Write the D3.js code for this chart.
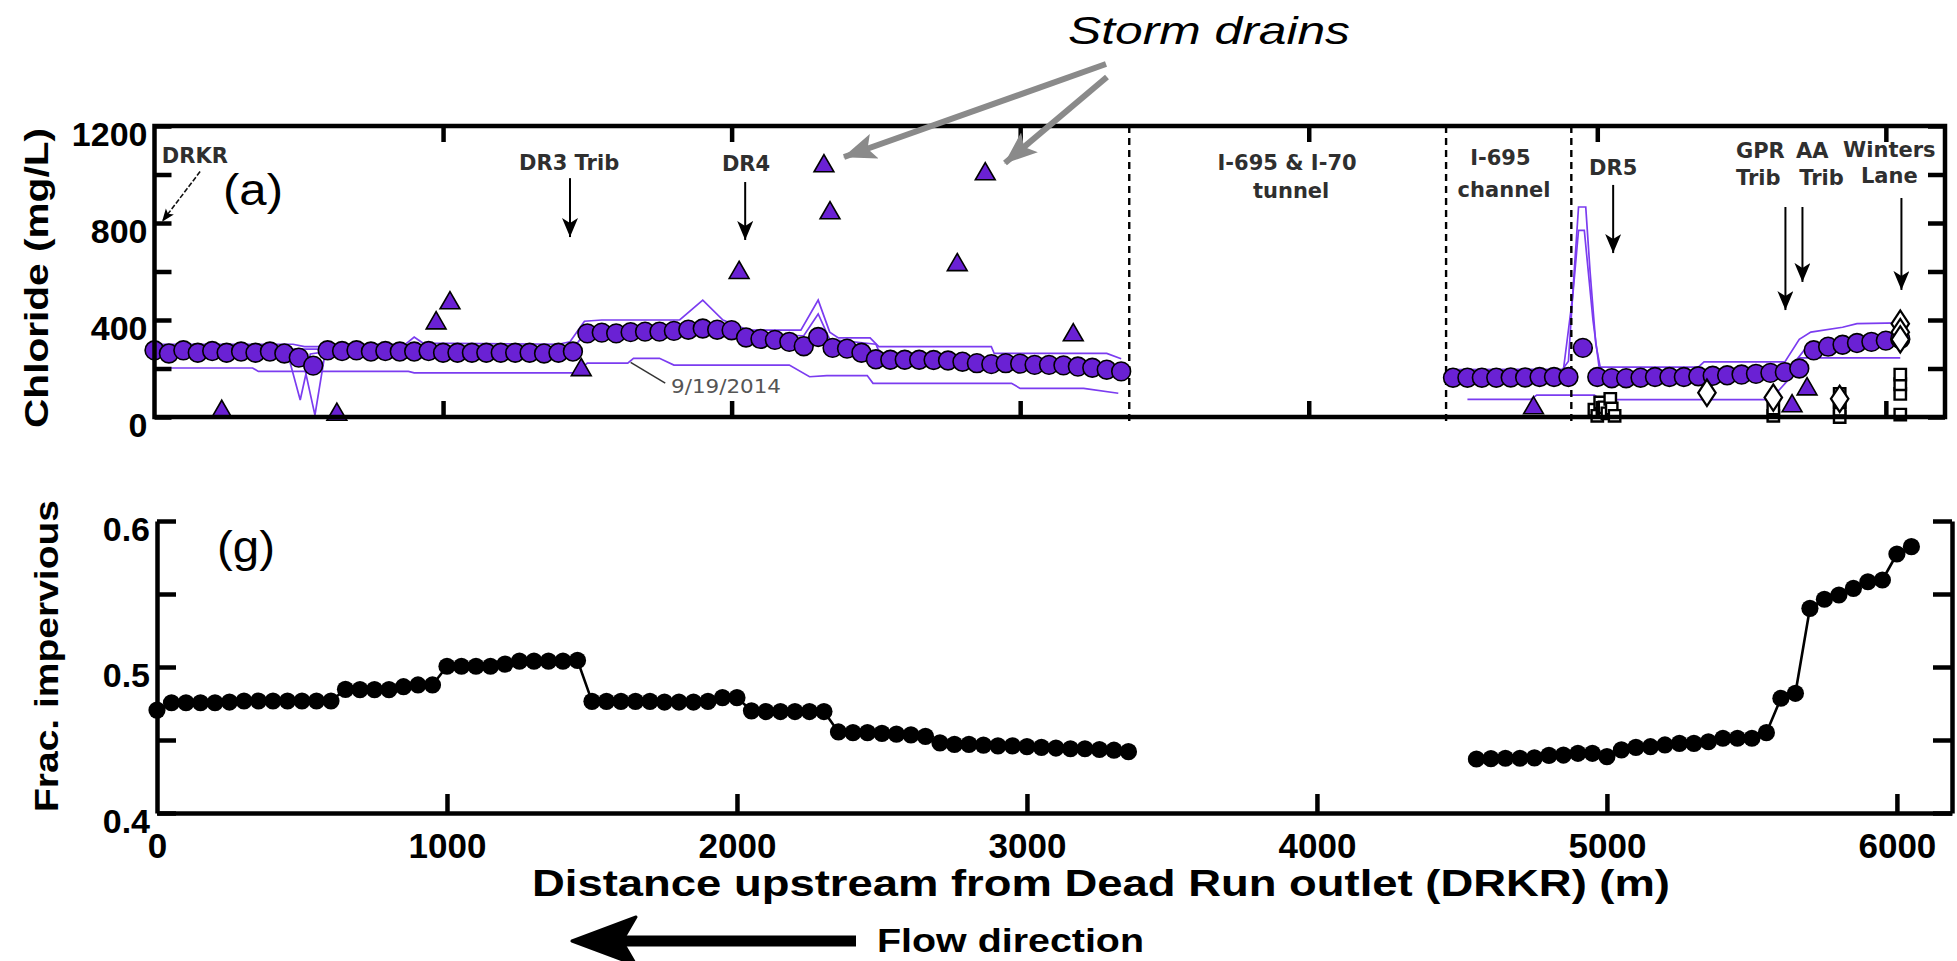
<!DOCTYPE html>
<html><head><meta charset="utf-8">
<script src="https://cdn.jsdelivr.net/npm/d3@7"></script>
<style>
body{margin:0;background:#fff;}
svg{display:block;}
</style></head>
<body><svg id="chart" width="1957" height="961"></svg>
<script>
// ---------------- DATA ----------------
const distLeft = [0,50,100,150,200,250,300,350,400,450,500,550,600,650,700,750,800,850,900,950,
  1000,1050,1100,1150,1200,1250,1300,1350,1400,1450,1500,1550,1600,1650,1700,1750,1800,1850,1900,1950,
  2000,2050,2100,2150,2200,2250,2300,2350,2400,2450,2500,2550,2600,2650,2700,2750,2800,2850,2900,2950,
  3000,3050,3100,3150,3200,3250,3300,3350];
const chlorideLeft = [275,262,275,265,272,265,270,265,270,262,245,212,275,272,275,270,272,270,270,272,
  265,265,265,265,265,265,265,262,265,270,345,348,345,350,352,352,355,360,365,360,
  358,328,322,318,310,292,330,285,282,265,238,236,236,236,235,233,228,222,218,222,
  220,215,215,213,208,203,195,188];
const distRightCl = [4500,4550,4600,4650,4700,4750,4800,4850,4900,4950,5000,5050,5100,5150,5200,5250,
  5300,5350,5400,5450,5500,5550,5600,5650,5700,5750,5800,5850,5900,5950,6000,6050];
const chlorideRight = [162,162,162,162,163,163,165,165,165,285,165,160,160,162,165,165,
  165,168,170,172,175,178,182,185,200,275,290,298,305,310,315,322];

const imperviousLeft = [0.4705,0.4755,0.4755,0.4755,0.4755,0.4760,0.4767,0.4767,0.4767,0.4767,0.4767,0.4767,0.4767,0.4847,0.4845,0.4845,0.4845,0.4865,0.4877,0.4877,
  0.5005,0.5005,0.5005,0.5005,0.5020,0.5040,0.5040,0.5040,0.5040,0.5045,0.4765,0.4765,0.4765,0.4765,0.4765,0.4760,0.4760,0.4760,0.4765,0.4790,
  0.4790,0.4700,0.4695,0.4695,0.4695,0.4695,0.4695,0.4555,0.4550,0.4550,0.4545,0.4540,0.4535,0.4525,0.4480,0.4470,0.4470,0.4465,0.4460,0.4460,
  0.4455,0.4450,0.4445,0.4440,0.4440,0.4435,0.4430,0.4420];
const distRightImp = [4550,4600,4650,4700,4750,4800,4850,4900,4950,5000,5050,5100,5150,5200,5250,5300,
  5350,5400,5450,5500,5550,5600,5650,5700,5750,5800,5850,5900,5950,6000,6050];
const imperviousRight = [0.4370,0.4372,0.4375,0.4375,0.4378,0.4395,0.4397,0.4409,0.4409,0.4386,0.4432,0.4450,0.4454,0.4466,0.4477,0.4477,
  0.4488,0.4512,0.4512,0.4512,0.4550,0.4786,0.4820,0.5402,0.5464,0.5493,0.5539,0.5584,0.5596,0.5774,0.5824];

// storm drain samples [distance, chloride]
const stormDrains = [[233,22],[632,10],[976,387],[1024,470],[1479,194],[2026,595],[2320,1035],[2341,841],
  [2782,627],[2879,1002],[3184,338],[4779,37],[5675,45],[5727,115]];
// other sampling dates (thin lines) [distance, chloride]
const dateA = [[0,300],[480,300],[520,290],[580,290],[620,300],[870,300],[900,330],[930,305],[1400,300],[1440,310],[1490,395],[1550,400],[1820,400],[1900,482],[1970,400],[2000,385],[2060,358],[2240,358],[2300,482],[2340,350],[2370,326],[2480,326],[2510,290],[2900,290],[2910,262],[3300,262],[3350,240]];
const dateB = [[0,280],[1450,280],[1500,360],[2000,362],[2040,340],[2250,335],[2300,425],[2340,320],[2500,300],[2520,245],[3350,200]];
const dateC = [[0,268],[460,268],[505,70],[540,260],[600,270],[1450,268]];
const dateD = [[0,262],[510,258],[556,8],[590,255],[1450,262]];
const date0919 = [[0,202],[340,202],[360,188],[880,188],[900,182],[1460,182],[1500,222],[1640,222],[1660,242],[1750,242],[1800,214],[2200,214],[2270,166],[2330,171],[2470,171],[2490,139],[2970,139],[3000,118],[3220,118],[3340,98]];
const dateR1 = [[4500,195],[4880,197],[4900,230],[4920,600],[4935,866],[4960,866],[4975,600],[4995,300],[5010,206],[5350,206],[5370,227],[5650,227],[5700,320],[5740,350],[5850,370],[5900,385],[6050,388]];
const dateR2 = [[4500,168],[4880,170],[4915,500],[4935,770],[4955,770],[4985,400],[5010,172],[5600,178],[5660,190],[5720,280],[5800,298],[6050,325]];
const dateR3 = [[4550,73],[4770,73],[4790,90],[4990,90],[5010,72],[5600,72],[5660,150],[5700,244],[6050,244]];
const thinLines = [dateA, dateB, dateC, dateD, date0919, dateR1, dateR2, dateR3];
// tributary samples (open symbols)
const openDiamonds = [[5380,100],[5610,80],[6050,385],[6050,350],[6050,320],[5840,75]];
const openSquares = [[4990,30],[5000,5],[5010,60],[5025,40],[5035,15],[5045,75],[5050,35],[5060,5],
  [5610,5],[5610,35],[5840,0],[5840,30],[5840,60],[5840,95],[6050,10],[6050,95],[6050,135],[6050,175]];

const xTicks = [0,1000,2000,3000,4000,5000,6000];
const xTickLabels = ["0","1000","2000","3000","4000","5000","6000"];
const clTicks = [0,200,400,600,800,1000,1200];
const clLabelled = [0,400,800,1200];
const impTicks = [0.4,0.45,0.5,0.55,0.6];
const impLabelled = [0.4,0.5,0.6];
const dividers = [3378,4476,4910];

// ---------------- LAYOUT ----------------
const svg = d3.select("#chart");
const FONT = "'Liberation Sans', Arial, Helvetica, sans-serif";
const LFONT = "'DejaVu Sans', Verdana, sans-serif";
const PURPLE = "#6a21d4", LPURPLE = "#7b3cf0";

const xTop = d3.scaleLinear().domain([0, 6205]).range([154.5, 1945]);
const yTop = d3.scaleLinear().domain([0, 1200]).range([417, 126]);
const xBot = d3.scaleLinear().domain([0, 6190]).range([157, 1952]);
const yBot = d3.scaleLinear().domain([0.4, 0.6]).range([813, 521]);

const defs = svg.append("defs");
defs.append("marker").attr("id","blk").attr("markerUnits","userSpaceOnUse")
  .attr("markerWidth",20).attr("markerHeight",18).attr("refX",19).attr("refY",8).attr("orient","auto")
  .append("path").attr("d","M0,0 L19,8 L0,16 L5,8 Z").attr("fill","#000");
defs.append("marker").attr("id","blkS").attr("markerUnits","userSpaceOnUse")
  .attr("markerWidth",14).attr("markerHeight",12).attr("refX",13).attr("refY",5).attr("orient","auto")
  .append("path").attr("d","M0,0 L13,5 L0,10 L3,5 Z").attr("fill","#000");
defs.append("marker").attr("id","gry").attr("markerUnits","userSpaceOnUse")
  .attr("markerWidth",36).attr("markerHeight",30).attr("refX",32).attr("refY",13).attr("orient","auto")
  .append("path").attr("d","M0,0 L33,13 L0,26 L7,13 Z").attr("fill","#8a8a8a");

function styleAxis(g, fs, w){
  g.attr("font-family", FONT).attr("font-size", fs).attr("font-weight","bold");
  g.selectAll(".tick line").attr("stroke","#000").attr("stroke-width", w);
  g.selectAll(".tick text").attr("fill","#000");
}

// ---- Top panel ----
const gTop = svg.append("g");
const lineTop = d3.line().x(d => xTop(d[0])).y(d => yTop(d[1]));
gTop.selectAll("path.thin").data(thinLines).enter().append("path")
  .attr("class","thin").attr("d", lineTop).attr("fill","none")
  .attr("stroke", LPURPLE).attr("stroke-width",1.7);

gTop.selectAll("line.div").data(dividers).enter().append("line")
  .attr("x1", d => xTop(d)).attr("x2", d => xTop(d))
  .attr("y1", yTop(1200)).attr("y2", yTop(0) + 9)
  .attr("stroke","#000").attr("stroke-width",2.4).attr("stroke-dasharray","7,5");

// 9/19/2014 label with leader
gTop.append("line").attr("x1", xTop(1650)).attr("y1", yTop(225)).attr("x2", xTop(1770)).attr("y2", yTop(140))
  .attr("stroke","#333").attr("stroke-width",1.5);
gTop.append("text").attr("x", xTop(1790)).attr("y", yTop(100)).attr("font-family", LFONT)
  .attr("font-size",20).attr("fill","#555").attr("textLength",110).attr("lengthAdjust","spacingAndGlyphs")
  .text("9/19/2014");

const circLeft = distLeft.map((d,i) => [d, chlorideLeft[i]]);
const circRight = distRightCl.map((d,i) => [d, chlorideRight[i]]);
gTop.selectAll("circle.cl").data(circLeft.concat(circRight)).enter().append("circle")
  .attr("class","cl").attr("cx", d => xTop(d[0])).attr("cy", d => yTop(d[1])).attr("r", 9.4)
  .attr("fill", PURPLE).attr("stroke","#000").attr("stroke-width",1.6);

gTop.selectAll("path.sq").data(openSquares).enter().append("path")
  .attr("d", d3.symbol().type(d3.symbolSquare).size(130))
  .attr("transform", d => `translate(${xTop(d[0])},${yTop(d[1])})`)
  .attr("fill","#fff").attr("stroke","#000").attr("stroke-width",2.4);
gTop.selectAll("path.dm").data(openDiamonds).enter().append("path")
  .attr("d", d3.symbol().type(d3.symbolDiamond).size(200))
  .attr("transform", d => `translate(${xTop(d[0])},${yTop(d[1])}) scale(1.15,1)`)
  .attr("fill","#fff").attr("stroke","#000").attr("stroke-width",2);

gTop.selectAll("path.tri").data(stormDrains).enter().append("path")
  .attr("d", d3.symbol().type(d3.symbolTriangle).size(170))
  .attr("transform", d => `translate(${xTop(d[0])},${yTop(d[1])})`)
  .attr("fill", PURPLE).attr("stroke","#000").attr("stroke-width",1.6);

gTop.append("rect").attr("x", xTop(0)).attr("y", yTop(1200))
  .attr("width", xTop(6205) - xTop(0)).attr("height", yTop(0) - yTop(1200))
  .attr("fill","none").attr("stroke","#000").attr("stroke-width",4.5);

const gTL = gTop.append("g").attr("transform", `translate(${xTop(0)},0)`)
  .call(d3.axisLeft(yTop).tickValues(clTicks).tickSize(-17).tickSizeOuter(0).tickPadding(7)
    .tickFormat(d => clLabelled.includes(d) ? String(d) : ""));
gTL.select(".domain").remove(); styleAxis(gTL, 34, 4.5);
gTL.selectAll(".tick text").attr("dy","0.56em");
const gTR = gTop.append("g").attr("transform", `translate(${xTop(6205)},0)`)
  .call(d3.axisRight(yTop).tickValues(clTicks).tickSize(-17).tickSizeOuter(0).tickFormat(""));
gTR.select(".domain").remove(); styleAxis(gTR, 34, 4.5);
const gTT = gTop.append("g").attr("transform", `translate(0,${yTop(1200)})`)
  .call(d3.axisTop(xTop).tickValues(xTicks.slice(1)).tickSize(-16).tickSizeOuter(0).tickFormat(""));
gTT.select(".domain").remove(); styleAxis(gTT, 34, 4.5);
const gTB = gTop.append("g").attr("transform", `translate(0,${yTop(0)})`)
  .call(d3.axisBottom(xTop).tickValues(xTicks.slice(1)).tickSize(-16).tickSizeOuter(0).tickFormat(""));
gTB.select(".domain").remove(); styleAxis(gTB, 34, 4.5);

const siteLabels = [
  {t:"DRKR", d:140, y:1047},
  {t:"DR3 Trib", d:1437, y:1019},
  {t:"DR4", d:2050, y:1014},
  {t:"I-695 & I-70", d:3925, y:1019},
  {t:"tunnel", d:3939, y:903},
  {t:"I-695", d:4664, y:1039},
  {t:"channel", d:4677, y:907},
  {t:"DR5", d:5055, y:998},
  {t:"GPR", d:5565, y:1068},
  {t:"Trib", d:5558, y:957},
  {t:"AA", d:5745, y:1068},
  {t:"Trib", d:5777, y:957},
  {t:"Winters", d:6012, y:1072},
  {t:"Lane", d:6012, y:965}
];
gTop.selectAll("text.site").data(siteLabels).enter().append("text")
  .attr("x", d => xTop(d.d)).attr("y", d => yTop(d.y)).attr("text-anchor","middle")
  .attr("font-family", LFONT).attr("font-weight","bold")
  .attr("font-size",21).attr("fill","#2f2f2f").text(d => d.t);
const siteArrows = [
  {d:1440, y1:985, y2:742}, {d:2047, y1:969, y2:730}, {d:5055, y1:957, y2:676},
  {d:5652, y1:866, y2:441}, {d:5711, y1:866, y2:557}, {d:6054, y1:903, y2:524}
];
gTop.selectAll("line.sa").data(siteArrows).enter().append("line")
  .attr("x1", d => xTop(d.d)).attr("x2", d => xTop(d.d))
  .attr("y1", d => yTop(d.y1)).attr("y2", d => yTop(d.y2))
  .attr("stroke","#000").attr("stroke-width",2).attr("marker-end","url(#blk)");
gTop.append("line").attr("x1", xTop(158)).attr("y1", yTop(1012)).attr("x2", xTop(26)).attr("y2", yTop(805))
  .attr("stroke","#111").attr("stroke-width",1.6).attr("stroke-dasharray","5,2").attr("marker-end","url(#blkS)");

gTop.append("text").attr("x",223).attr("y",205).attr("font-family",FONT).attr("font-size",44)
  .attr("textLength",60).attr("lengthAdjust","spacingAndGlyphs").text("(a)");

svg.append("text").attr("x",1068).attr("y",44).attr("font-family",FONT).attr("font-style","italic")
  .attr("font-size",38).attr("textLength",282).attr("lengthAdjust","spacingAndGlyphs").text("Storm drains");
const stormArrows = [[1106,64,844,157],[1107,77,1005,163]];
svg.selectAll("line.sd").data(stormArrows).enter().append("line")
  .attr("x1", d => d[0]).attr("y1", d => d[1]).attr("x2", d => d[2]).attr("y2", d => d[3])
  .attr("stroke","#8a8a8a").attr("stroke-width",6).attr("marker-end","url(#gry)");

svg.append("text").attr("transform", "translate(48,278) rotate(-90)").attr("text-anchor","middle")
  .attr("font-family",FONT).attr("font-weight","bold").attr("font-size",34)
  .attr("textLength",300).attr("lengthAdjust","spacingAndGlyphs").text("Chloride (mg/L)");

// ---- Bottom panel ----
const gBot = svg.append("g");
const lineBot = d3.line().x(d => xBot(d[0])).y(d => yBot(d[1]));
const impL = distLeft.map((d,i) => [d, imperviousLeft[i]]);
const impR = distRightImp.map((d,i) => [d, imperviousRight[i]]);
gBot.selectAll("path.imp").data([impL, impR]).enter().append("path")
  .attr("d", lineBot).attr("fill","none").attr("stroke","#000").attr("stroke-width",2.6);
gBot.selectAll("circle.imp").data(impL.concat(impR)).enter().append("circle")
  .attr("cx", d => xBot(d[0])).attr("cy", d => yBot(d[1])).attr("r", 8.6).attr("fill","#000");

const gBL = gBot.append("g").attr("transform", `translate(${xBot(0)},0)`)
  .call(d3.axisLeft(yBot).tickValues(impTicks).tickSize(-19).tickSizeOuter(0).tickPadding(7)
    .tickFormat(d => impLabelled.some(v => Math.abs(v-d) < 1e-9) ? d3.format(".1f")(d) : ""));
gBL.select(".domain").attr("stroke","#000").attr("stroke-width",4.5);
styleAxis(gBL, 34, 4.5); gBL.selectAll(".tick text").attr("dy","0.56em");
const gBR = gBot.append("g").attr("transform", `translate(${xBot(6190)},0)`)
  .call(d3.axisRight(yBot).tickValues(impTicks).tickSize(-19).tickSizeOuter(0).tickFormat(""));
gBR.select(".domain").attr("stroke","#000").attr("stroke-width",4.5); styleAxis(gBR, 34, 4.5);
const gBB = gBot.append("g").attr("transform", `translate(0,${yBot(0.4)})`)
  .call(d3.axisBottom(xBot).tickValues(xTicks).tickSize(-19).tickSizeOuter(0).tickPadding(20)
    .tickFormat((d,i) => xTickLabels[i]));
gBB.select(".domain").attr("stroke","#000").attr("stroke-width",4.5); styleAxis(gBB, 35, 4.5);
gBB.selectAll(".tick line").filter(d => d === 0).remove();

gBot.append("text").attr("x",217).attr("y",562).attr("font-family",FONT).attr("font-size",44)
  .attr("textLength",58).attr("lengthAdjust","spacingAndGlyphs").text("(g)");

svg.append("text").attr("transform", "translate(58,656) rotate(-90)").attr("text-anchor","middle")
  .attr("font-family",FONT).attr("font-weight","bold").attr("font-size",34)
  .attr("textLength",312).attr("lengthAdjust","spacingAndGlyphs").text("Frac. impervious");

svg.append("text").attr("x",532).attr("y",896).attr("font-family",FONT).attr("font-weight","bold")
  .attr("font-size",36).attr("textLength",1138).attr("lengthAdjust","spacingAndGlyphs")
  .text("Distance upstream from Dead Run outlet (DRKR) (m)");

svg.append("line").attr("x1",856).attr("y1",941).attr("x2",610).attr("y2",941)
  .attr("stroke","#000").attr("stroke-width",11);
svg.append("path").attr("d","M572,941 L636,917 L622,941 L636,965 Z").attr("fill","#000")
  .attr("stroke","#000").attr("stroke-width",3).attr("stroke-linejoin","round");
svg.append("text").attr("x",877).attr("y",952).attr("font-family",FONT).attr("font-weight","bold")
  .attr("font-size",34).attr("textLength",267).attr("lengthAdjust","spacingAndGlyphs").text("Flow direction");
</script></body></html>
